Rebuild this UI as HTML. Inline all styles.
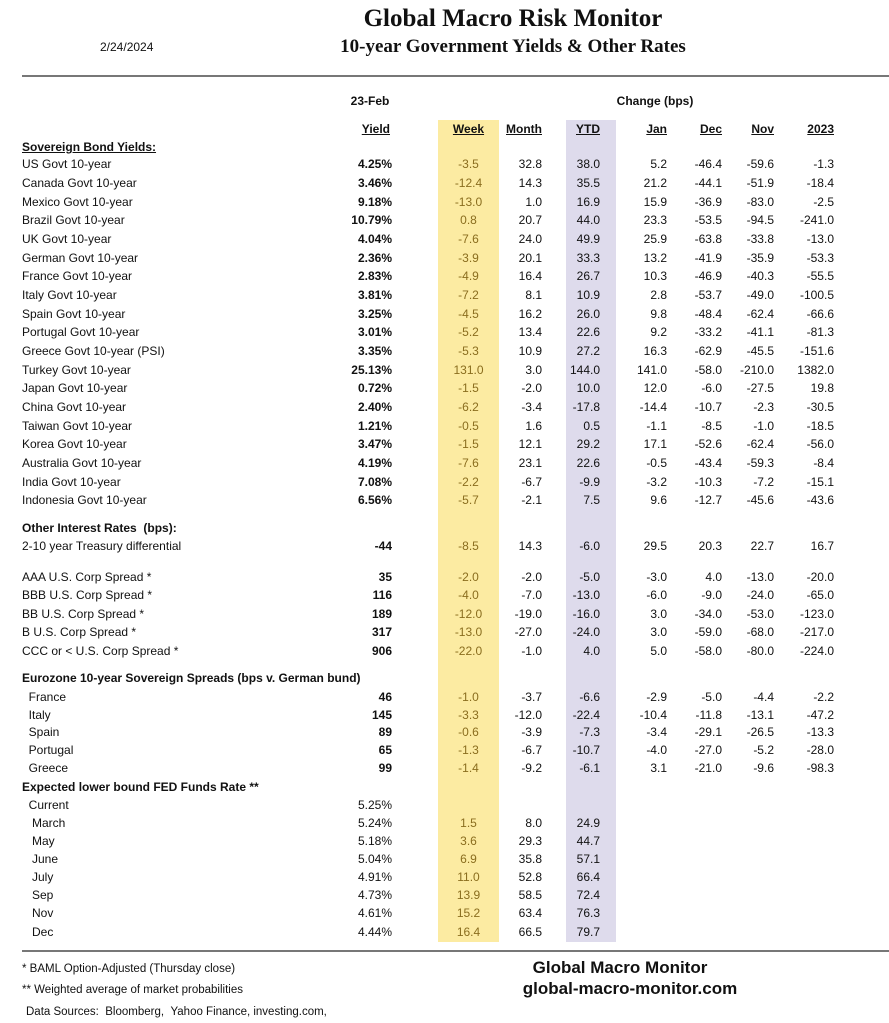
<!DOCTYPE html>
<html><head><meta charset="utf-8"><style>
body{margin:0;background:#fff;}
#p{position:relative;width:889px;height:1023px;overflow:hidden;font-family:"Liberation Sans",sans-serif;font-size:12px;color:#111;}
#p div{position:absolute;white-space:nowrap;}
.r{text-align:right;}
.c{text-align:center;}
.b{font-weight:bold;}
.u{text-decoration:underline;}
.wk{color:#8a6d1e;}
</style></head><body><div id="p">
<div style="left:438px;top:120px;width:61px;height:822px;background:#fcebA2"></div>
<div style="left:566px;top:120px;width:50px;height:822px;background:#dedbec"></div>
<div style="left:22px;top:75px;width:867px;height:2px;background:#777"></div>
<div style="left:22px;top:950px;width:867px;height:2px;background:#777"></div>
<div style="left:300px;top:5px;width:426px;font-family:'Liberation Serif',serif;font-weight:bold;font-size:25px;text-align:center">Global Macro Risk Monitor</div>
<div style="left:300px;top:36px;width:426px;font-family:'Liberation Serif',serif;font-weight:bold;font-size:19px;text-align:center">10-year Government Yields &amp; Other Rates</div>
<div style="left:100px;top:40px;font-size:12px">2/24/2024</div>
<div class="b" style="left:340px;top:94px;width:60px;text-align:center">23-Feb</div>
<div class="b" style="left:610px;top:94px;width:90px;text-align:center">Change (bps)</div>
<div class="b u r" style="left:330px;top:122px;width:60px">Yield</div>
<div class="b u c" style="left:438px;top:122px;width:61px">Week</div>
<div class="b u r" style="left:490px;top:122px;width:52px">Month</div>
<div class="b u r" style="left:548px;top:122px;width:52px">YTD</div>
<div class="b u r" style="left:615px;top:122px;width:52px">Jan</div>
<div class="b u r" style="left:670px;top:122px;width:52px">Dec</div>
<div class="b u r" style="left:722px;top:122px;width:52px">Nov</div>
<div class="b u r" style="left:780px;top:122px;width:54px">2023</div>
<div class="b u" style="left:22px;top:140px">Sovereign Bond Yields:</div>
<div class="b" style="left:22px;top:521px">Other Interest Rates &nbsp;(bps):</div>
<div class="b" style="left:22px;top:671px">Eurozone 10-year Sovereign Spreads (bps v. German bund)</div>
<div class="b" style="left:22px;top:780px">Expected lower bound FED Funds Rate **</div>
<div style="left:22px;top:963px;font-size:11.5px">* BAML Option-Adjusted (Thursday close)</div>
<div style="left:22px;top:984px;font-size:11.5px">** Weighted average of market probabilities</div>
<div style="left:26px;top:1006px;font-size:11.5px">Data Sources: &nbsp;Bloomberg, &nbsp;Yahoo Finance, investing.com,</div>
<div class="b" style="left:500px;top:958px;width:240px;text-align:center;font-size:17px">Global Macro Monitor</div>
<div class="b" style="left:490px;top:979px;width:280px;text-align:center;font-size:17px">global-macro-monitor.com</div>
</div>
<script>
var R=[
[165,"US Govt 10-year","4.25%","-3.5","32.8","38.0","5.2","-46.4","-59.6","-1.3",1],
[184,"Canada Govt 10-year","3.46%","-12.4","14.3","35.5","21.2","-44.1","-51.9","-18.4",1],
[203,"Mexico Govt 10-year","9.18%","-13.0","1.0","16.9","15.9","-36.9","-83.0","-2.5",1],
[221,"Brazil Govt 10-year","10.79%","0.8","20.7","44.0","23.3","-53.5","-94.5","-241.0",1],
[240,"UK Govt 10-year","4.04%","-7.6","24.0","49.9","25.9","-63.8","-33.8","-13.0",1],
[259,"German Govt 10-year","2.36%","-3.9","20.1","33.3","13.2","-41.9","-35.9","-53.3",1],
[277,"France Govt 10-year","2.83%","-4.9","16.4","26.7","10.3","-46.9","-40.3","-55.5",1],
[296,"Italy Govt 10-year","3.81%","-7.2","8.1","10.9","2.8","-53.7","-49.0","-100.5",1],
[315,"Spain Govt 10-year","3.25%","-4.5","16.2","26.0","9.8","-48.4","-62.4","-66.6",1],
[333,"Portugal Govt 10-year","3.01%","-5.2","13.4","22.6","9.2","-33.2","-41.1","-81.3",1],
[352,"Greece Govt 10-year (PSI)","3.35%","-5.3","10.9","27.2","16.3","-62.9","-45.5","-151.6",1],
[371,"Turkey Govt 10-year","25.13%","131.0","3.0","144.0","141.0","-58.0","-210.0","1382.0",1],
[389,"Japan Govt 10-year","0.72%","-1.5","-2.0","10.0","12.0","-6.0","-27.5","19.8",1],
[408,"China Govt 10-year","2.40%","-6.2","-3.4","-17.8","-14.4","-10.7","-2.3","-30.5",1],
[427,"Taiwan Govt 10-year","1.21%","-0.5","1.6","0.5","-1.1","-8.5","-1.0","-18.5",1],
[445,"Korea Govt 10-year","3.47%","-1.5","12.1","29.2","17.1","-52.6","-62.4","-56.0",1],
[464,"Australia Govt 10-year","4.19%","-7.6","23.1","22.6","-0.5","-43.4","-59.3","-8.4",1],
[483,"India Govt 10-year","7.08%","-2.2","-6.7","-9.9","-3.2","-10.3","-7.2","-15.1",1],
[501,"Indonesia Govt 10-year","6.56%","-5.7","-2.1","7.5","9.6","-12.7","-45.6","-43.6",1],
[547,"2-10 year Treasury differential","-44","-8.5","14.3","-6.0","29.5","20.3","22.7","16.7",1],
[578,"AAA U.S. Corp Spread *","35","-2.0","-2.0","-5.0","-3.0","4.0","-13.0","-20.0",1],
[596,"BBB U.S. Corp Spread *","116","-4.0","-7.0","-13.0","-6.0","-9.0","-24.0","-65.0",1],
[615,"BB U.S. Corp Spread *","189","-12.0","-19.0","-16.0","3.0","-34.0","-53.0","-123.0",1],
[633,"B U.S. Corp Spread *","317","-13.0","-27.0","-24.0","3.0","-59.0","-68.0","-217.0",1],
[652,"CCC or < U.S. Corp Spread *","906","-22.0","-1.0","4.0","5.0","-58.0","-80.0","-224.0",1],
[698,"&nbsp;&nbsp;France","46","-1.0","-3.7","-6.6","-2.9","-5.0","-4.4","-2.2",1],
[716,"&nbsp;&nbsp;Italy","145","-3.3","-12.0","-22.4","-10.4","-11.8","-13.1","-47.2",1],
[733,"&nbsp;&nbsp;Spain","89","-0.6","-3.9","-7.3","-3.4","-29.1","-26.5","-13.3",1],
[751,"&nbsp;&nbsp;Portugal","65","-1.3","-6.7","-10.7","-4.0","-27.0","-5.2","-28.0",1],
[769,"&nbsp;&nbsp;Greece","99","-1.4","-9.2","-6.1","3.1","-21.0","-9.6","-98.3",1],
[806,"&nbsp;&nbsp;Current","5.25%","","","","","","","",0],
[824,"&nbsp;&nbsp;&nbsp;March","5.24%","1.5","8.0","24.9","","","","",0],
[842,"&nbsp;&nbsp;&nbsp;May","5.18%","3.6","29.3","44.7","","","","",0],
[860,"&nbsp;&nbsp;&nbsp;June","5.04%","6.9","35.8","57.1","","","","",0],
[878,"&nbsp;&nbsp;&nbsp;July","4.91%","11.0","52.8","66.4","","","","",0],
[896,"&nbsp;&nbsp;&nbsp;Sep","4.73%","13.9","58.5","72.4","","","","",0],
[914,"&nbsp;&nbsp;&nbsp;Nov","4.61%","15.2","63.4","76.3","","","","",0],
[933,"&nbsp;&nbsp;&nbsp;Dec","4.44%","16.4","66.5","79.7","","","","",0]];
var h="";
R.forEach(function(r){var t=r[0]-8;
h+='<div style="left:22px;top:'+t+'px">'+r[1]+'</div>';
h+='<div class="r'+(r[10]?' b':'')+'" style="left:300px;top:'+t+'px;width:92px">'+r[2]+'</div>';
h+='<div class="c wk" style="left:438px;top:'+t+'px;width:61px">'+r[3]+'</div>';
var X=[542,600,667,722,774,834];
for(var i=0;i<6;i++)h+='<div class="r" style="left:'+(X[i]-70)+'px;top:'+t+'px;width:70px">'+r[4+i]+'</div>';
});
document.getElementById('p').insertAdjacentHTML('beforeend',h);
</script>
</body></html>
